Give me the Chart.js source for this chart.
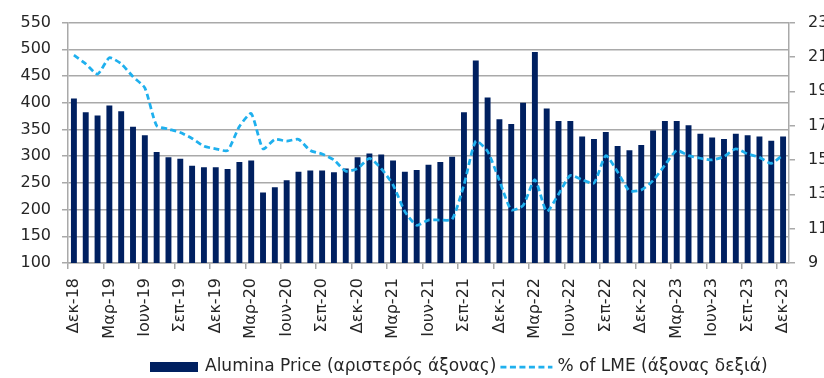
<!DOCTYPE html>
<html>
<head>
<meta charset="utf-8">
<script src="https://cdn.jsdelivr.net/npm/chart.js@4.4.1/dist/chart.umd.min.js"></script>
<style>
  body { margin: 0; background: #fff; }
  #wrap { width: 824px; height: 378px; }
</style>
</head>
<body>
<div id="wrap"><canvas id="aluminaChart" width="824" height="378"></canvas></div>
<script>
// monthly data, Dec-18 .. Dec-23
const months = [
  'Δεκ-18',
  'Ιαν-19', 'Φεβ-19', 'Μαρ-19', 'Απρ-19', 'Μαϊ-19', 'Ιουν-19', 'Ιουλ-19', 'Αυγ-19', 'Σεπ-19', 'Οκτ-19', 'Νοε-19', 'Δεκ-19',
  'Ιαν-20', 'Φεβ-20', 'Μαρ-20', 'Απρ-20', 'Μαϊ-20', 'Ιουν-20', 'Ιουλ-20', 'Αυγ-20', 'Σεπ-20', 'Οκτ-20', 'Νοε-20', 'Δεκ-20',
  'Ιαν-21', 'Φεβ-21', 'Μαρ-21', 'Απρ-21', 'Μαϊ-21', 'Ιουν-21', 'Ιουλ-21', 'Αυγ-21', 'Σεπ-21', 'Οκτ-21', 'Νοε-21', 'Δεκ-21',
  'Ιαν-22', 'Φεβ-22', 'Μαρ-22', 'Απρ-22', 'Μαϊ-22', 'Ιουν-22', 'Ιουλ-22', 'Αυγ-22', 'Σεπ-22', 'Οκτ-22', 'Νοε-22', 'Δεκ-22',
  'Ιαν-23', 'Φεβ-23', 'Μαρ-23', 'Απρ-23', 'Μαϊ-23', 'Ιουν-23', 'Ιουλ-23', 'Αυγ-23', 'Σεπ-23', 'Οκτ-23', 'Νοε-23', 'Δεκ-23'
];

const aluminaPrice = [
  408,
  382, 376, 395, 384, 355, 339, 308, 298, 295, 282, 279, 279,
  276, 289, 292, 232, 242, 255, 271, 273, 273, 270, 277, 298,
  305, 303, 292, 271, 274, 284, 289, 299, 382, 479, 410, 369,
  360, 400, 495, 389, 366, 366, 337, 332, 345, 319, 311, 321,
  348, 366, 366, 358, 342, 335, 332, 342, 339, 337, 329, 337
];

const pctOfLme = [
  21.1,
  20.6, 20.0, 20.95, 20.6, 19.85, 19.2, 17.0, 16.8, 16.6, 16.25, 15.8, 15.65,
  15.55, 16.95, 17.7, 15.65, 16.2, 16.1, 16.2, 15.55, 15.35, 15.0, 14.35, 14.5,
  15.1, 14.5, 13.55, 12.0, 11.2, 11.5, 11.5, 11.55, 13.55, 16.1, 15.5, 13.8,
  12.1, 12.35, 13.85, 12.0, 13.0, 14.1, 13.85, 13.65, 15.25, 14.3, 13.2, 13.25,
  13.8, 14.7, 15.55, 15.25, 15.1, 15.0, 15.2, 15.65, 15.35, 15.15, 14.8, 15.3
];

const leftTicks = { min: 100, max: 550, step: 50 };
const rightTicks = { min: 9, max: 23, step: 2 };

const seriesNames = ['Alumina Price (αριστερός άξονας)', '% of LME (άξονας δεξιά)'];

const NAVY = '#002060';
const SKY = '#1fb0ee';
const GRID = '#a9a9a9';
const TEXT = '#262626';
const FONT = 'DejaVu Sans';

// legend drawn by hand: solid block for the bars, dashed stroke for the line
const bottomLegend = {
  id: 'bottomLegend',
  afterDraw(chart) {
    const c = chart.ctx;
    const y = 367;
    let x = 150;
    c.save();
    c.font = '17px "' + FONT + '"';
    c.textBaseline = 'middle';
    chart.data.datasets.slice().sort((a, b) => b.order - a.order).forEach(ds => {
      if (ds.type === 'bar') {
        c.fillStyle = ds.backgroundColor;
        c.fillRect(x, y - 5, 48, 10);
        x += 55;
      } else {
        c.strokeStyle = ds.borderColor;
        c.lineWidth = ds.borderWidth;
        c.setLineDash(ds.borderDash);
        c.beginPath();
        c.moveTo(x, y);
        c.lineTo(x + 52, y);
        c.stroke();
        c.setLineDash([]);
        x += 57;
      }
      c.fillStyle = TEXT;
      c.fillText(ds.label, x, y);
      x += c.measureText(ds.label).width + 4;
    });
    c.restore();
  }
};

const ctx = document.getElementById('aluminaChart').getContext('2d');

new Chart(ctx, {
  data: {
    labels: months,
    datasets: [
      {
        type: 'line',
        label: seriesNames[1],
        data: pctOfLme,
        yAxisID: 'y1',
        borderColor: SKY,
        borderWidth: 2.75,
        borderDash: [6, 3.5],
        tension: 0.2,
        pointRadius: 0,
        fill: false,
        order: 0
      },
      {
        type: 'bar',
        label: seriesNames[0],
        data: aluminaPrice,
        yAxisID: 'y',
        backgroundColor: NAVY,
        barPercentage: 0.5,
        categoryPercentage: 1,
        order: 1
      }
    ]
  },
  options: {
    responsive: false,
    animation: false,
    layout: { padding: { top: 18, right: 0, left: 0, bottom: 0 } },
    plugins: {
      legend: { display: false },
      tooltip: { enabled: false }
    },
    scales: {
      x: {
        offset: true,
        afterFit(scale) { scale.height = 115; },
        border: { color: GRID, width: 1.5 },
        grid: {
          offset: true,
          drawOnChartArea: false,
          tickLength: 6,
          lineWidth: 1.5,
          color: c => (c.index !== undefined && c.index % 3 === 0) ? GRID : 'rgba(0,0,0,0)'
        },
        ticks: {
          autoSkip: false,
          minRotation: 90,
          maxRotation: 90,
          padding: 9,
          color: TEXT,
          font: { family: FONT, size: 16 },
          callback(value, index) { return index % 3 === 0 ? this.getLabelForValue(value) : ''; }
        }
      },
      y: {
        position: 'left',
        min: leftTicks.min,
        max: leftTicks.max,
        afterFit(scale) { scale.width = 68; },
        border: { color: GRID, width: 1.5 },
        grid: { color: GRID, lineWidth: 1.5, tickLength: 6 },
        ticks: {
          stepSize: leftTicks.step,
          padding: 11,
          color: TEXT,
          font: { family: FONT, size: 16 }
        }
      },
      y1: {
        position: 'right',
        min: rightTicks.min,
        max: rightTicks.max,
        afterFit(scale) { scale.width = 35; },
        border: { color: GRID, width: 1.5 },
        grid: { drawOnChartArea: false, color: GRID, lineWidth: 1.5, tickLength: 6 },
        ticks: {
          stepSize: rightTicks.step,
          padding: 13,
          color: TEXT,
          font: { family: FONT, size: 16 }
        }
      }
    }
  },
  plugins: [bottomLegend]
});
</script>
</body>
</html>
